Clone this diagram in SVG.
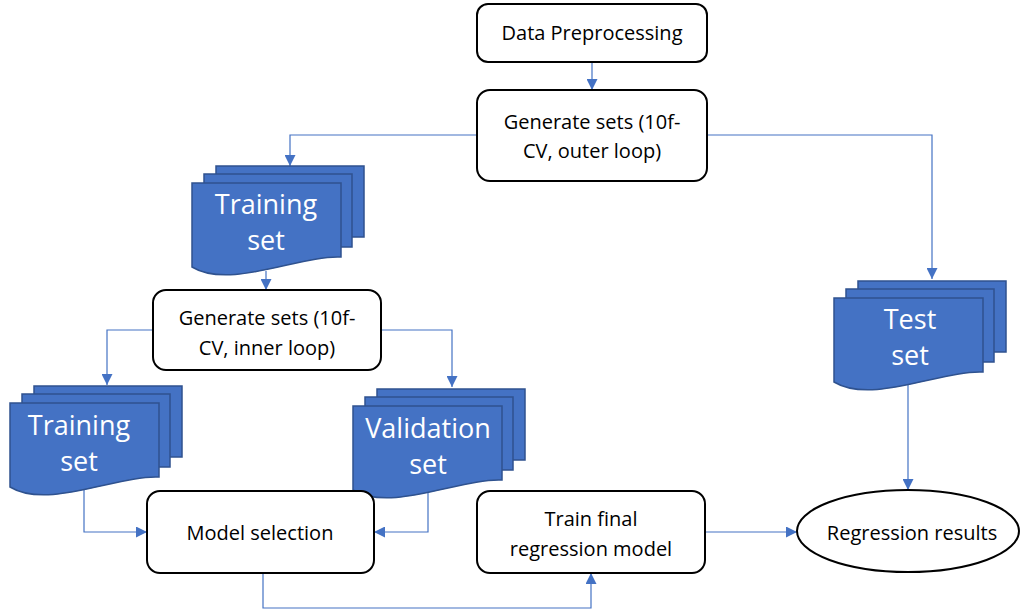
<svg xmlns="http://www.w3.org/2000/svg" xmlns:xlink="http://www.w3.org/1999/xlink" width="1020" height="613" viewBox="0 0 1020 613">
<style>
.box{fill:#fff;stroke:#000;stroke-width:2}
.t{font-family:"Open Sans","Liberation Sans",sans-serif;font-size:20px;fill:#000;text-anchor:middle}
.dt{font-family:"Open Sans","Liberation Sans",sans-serif;font-size:27px;fill:#fff;text-anchor:middle}
.doc{fill:#4472C4;stroke:#2F528F;stroke-width:1.5}
.c{fill:none;stroke:#4472C4;stroke-width:1.2;marker-end:url(#ah)}
</style>
<defs>
<marker id="ah" markerUnits="userSpaceOnUse" markerWidth="11" markerHeight="11" refX="10" refY="5" orient="auto" viewBox="0 0 10 10">
<path d="M0,0 L10,5 L0,10 z" fill="#4472C4"/>
</marker>
<g id="multidoc">
<rect class="doc" x="24" y="-17" width="148" height="71"/>
<rect class="doc" x="12" y="-9" width="148" height="73"/>
<path class="doc" d="M0,0 H149 V74 C108,72 38,107 0,84 Z"/>
</g>
</defs>

<g id="connectors">
<path class="c" d="M592,62 V90"/>
<path class="c" d="M477,135 H290 V166"/>
<path class="c" d="M707,135 H932 V279"/>
<path class="c" d="M266,271 V290"/>
<path class="c" d="M153,330 H107 V385"/>
<path class="c" d="M381,330 H452 V387"/>
<path class="c" d="M84,483 V532 H147"/>
<path class="c" d="M428,488 V532 H374"/>
<path class="c" d="M263,573 V608 H591 V573"/>
<path class="c" d="M705,532 H797"/>
<path class="c" d="M908,383 V490"/>
</g>

<g id="data-preprocessing">
<rect class="box" x="477" y="4" width="230" height="58" rx="11"/>
<text class="t" x="592" y="40">Data Preprocessing</text>
</g>

<g id="generate-outer">
<rect class="box" x="477" y="90" width="230" height="91" rx="13"/>
<text class="t" x="592" y="129">Generate sets (10f-</text>
<text class="t" x="592" y="158">CV, outer loop)</text>
</g>

<g id="training-set-outer" transform="translate(192,183)">
<use xlink:href="#multidoc"/>
<text class="dt" x="74" y="31">Training</text>
<text class="dt" x="74" y="67">set</text>
</g>

<g id="test-set" transform="translate(834,298)">
<use xlink:href="#multidoc"/>
<text class="dt" x="76" y="31">Test</text>
<text class="dt" x="76" y="67">set</text>
</g>

<g id="generate-inner">
<rect class="box" x="153" y="290" width="228" height="80" rx="13"/>
<text class="t" x="267" y="325">Generate sets (10f-</text>
<text class="t" x="267" y="355">CV, inner loop)</text>
</g>

<g id="training-set-inner" transform="translate(10,403)">
<use xlink:href="#multidoc"/>
<text class="dt" x="69" y="32">Training</text>
<text class="dt" x="69" y="68">set</text>
</g>

<g id="validation-set" transform="translate(353,406)">
<use xlink:href="#multidoc"/>
<text class="dt" x="75" y="32">Validation</text>
<text class="dt" x="75" y="68">set</text>
</g>

<g id="model-selection">
<rect class="box" x="147" y="491" width="227" height="82" rx="13"/>
<text class="t" x="260" y="540">Model selection</text>
</g>

<g id="train-final">
<rect class="box" x="477" y="491" width="228" height="82" rx="13"/>
<text class="t" x="591" y="526">Train final</text>
<text class="t" x="591" y="556">regression model</text>
</g>

<g id="regression-results">
<ellipse class="box" cx="908" cy="531" rx="111" ry="41"/>
<text class="t" x="912" y="540">Regression results</text>
</g>
</svg>
